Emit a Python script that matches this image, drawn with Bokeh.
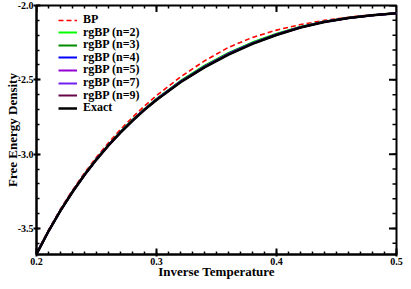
import math
from bokeh.plotting import figure
from bokeh.models import FixedTicker, NumeralTickFormatter, Legend, LegendItem
from bokeh.embed import file_html
from bokeh.resources import INLINE

# ---- data ----
beta = [0.20, 0.21, 0.22, 0.23, 0.24, 0.25, 0.26, 0.27, 0.28, 0.29, 0.30,
        0.32, 0.34, 0.36, 0.38, 0.40, 0.42, 0.44, 0.46, 0.48, 0.50]

bp = [-3.6644, -3.5092, -3.3689, -3.2417, -3.1258, -3.0200, -2.9231, -2.8340, -2.7519, -2.6762, -2.6061,
      -2.4808, -2.3723, -2.2816, -2.2148, -2.1656, -2.1283, -2.1003, -2.0789, -2.0625, -2.0496]
rgbp_n2 = [-3.6705, -3.5163, -3.3772, -3.2511, -3.1367, -3.0323, -2.9370, -2.8497, -2.7694, -2.6958, -2.6279,
           -2.5076, -2.4050, -2.3183, -2.2476, -2.1902, -2.1434, -2.1081, -2.0830, -2.0649, -2.0511]
rgbp_n3 = [-3.6712, -3.5171, -3.3781, -3.2522, -3.1378, -3.0336, -2.9385, -2.8513, -2.7713, -2.6979, -2.6303,
           -2.5105, -2.4085, -2.3223, -2.2512, -2.1928, -2.1451, -2.1089, -2.0835, -2.0652, -2.0513]
rgbp_n4 = [-3.6716, -3.5176, -3.3787, -3.2528, -3.1386, -3.0344, -2.9394, -2.8524, -2.7725, -2.6992, -2.6317,
           -2.5123, -2.4107, -2.3247, -2.2533, -2.1945, -2.1461, -2.1095, -2.0837, -2.0653, -2.0514]
rgbp_n5 = [-3.6719, -3.5178, -3.3790, -3.2532, -3.1390, -3.0349, -2.9399, -2.8530, -2.7732, -2.7000, -2.6326,
           -2.5134, -2.4120, -2.3262, -2.2547, -2.1954, -2.1467, -2.1098, -2.0839, -2.0654, -2.0514]
rgbp_n7 = [-3.6721, -3.5181, -3.3793, -3.2535, -3.1394, -3.0354, -2.9405, -2.8536, -2.7739, -2.7007, -2.6335,
           -2.5145, -2.4133, -2.3277, -2.2560, -2.1964, -2.1473, -2.1101, -2.0841, -2.0655, -2.0515]
rgbp_n9 = [-3.6723, -3.5183, -3.3796, -3.2538, -3.1397, -3.0357, -2.9409, -2.8541, -2.7744, -2.7013, -2.6340,
           -2.5152, -2.4142, -2.3286, -2.2568, -2.1971, -2.1477, -2.1103, -2.0842, -2.0656, -2.0515]
exact = [-3.6726, -3.5187, -3.3800, -3.2543, -3.1403, -3.0364, -2.9416, -2.8549, -2.7753, -2.7023, -2.6352,
         -2.5166, -2.4159, -2.3306, -2.2586, -2.1984, -2.1485, -2.1107, -2.0844, -2.0657, -2.0516]

series_labels = ["BP", "rgBP (n=2)", "rgBP (n=3)", "rgBP (n=4)", "rgBP (n=5)",
                 "rgBP (n=7)", "rgBP (n=9)", "Exact"]

x_major = [0.2, 0.3, 0.4, 0.5]
x_minor = [round(0.2 + 0.01 * i, 2) for i in range(31)]
y_major = [-3.5, -3.0, -2.5, -2.0]
y_minor = [round(-3.6 + 0.1 * i, 1) for i in range(17)]

FONT = "Liberation Serif"
X0, X1 = 0.2, 0.5
Y0, Y1 = -3.675, -2.0

W, H = 403, 281

p = figure(width=W, height=H, x_range=(X0, X1), y_range=(Y0, Y1),
           output_backend="svg", toolbar_location=None,
           x_axis_label="Inverse Temperature", y_axis_label="Free Energy Density",
           min_border_left=36, min_border_right=7,
           min_border_top=5, min_border_bottom=26)
p.outline_line_color = "black"
p.outline_line_width = 2
p.xgrid.visible = False
p.ygrid.visible = False
p.background_fill_color = "white"
p.border_fill_color = "white"

def style_axis(ax, ticks, minor, tick_in, tick_out, lab_standoff, title_standoff):
    ax.ticker = FixedTicker(ticks=ticks, minor_ticks=minor)
    ax.formatter = NumeralTickFormatter(format="0.0")
    ax.axis_line_width = 2
    ax.axis_line_color = "black"
    ax.major_tick_line_width = 2
    ax.minor_tick_line_width = 1.5
    ax.major_tick_in = tick_in
    ax.major_tick_out = tick_out
    ax.minor_tick_in = 3
    ax.minor_tick_out = 0
    ax.major_label_text_font = FONT
    ax.major_label_text_font_style = "bold"
    ax.major_label_text_color = "black"
    ax.major_label_text_font_size = "10px"
    ax.major_label_standoff = lab_standoff
    ax.axis_label_text_font = FONT
    ax.axis_label_text_font_style = "bold"
    ax.axis_label_text_font_size = "13px"
    ax.axis_label_text_color = "black"
    ax.axis_label_standoff = title_standoff

style_axis(p.xaxis[0], x_major, x_minor, 6, 2, 1, -4)
style_axis(p.yaxis[0], y_major, y_minor, 4, 3, 0, -5)

# inward ticks on the top and right frame edges (clipped half-dashes)
p.scatter(x_major, [Y1] * len(x_major), marker="dash", angle=math.pi / 2, size=13,
          line_color="black", line_width=2)
p.scatter(x_minor, [Y1] * len(x_minor), marker="dash", angle=math.pi / 2, size=6,
          line_color="black", line_width=1.5)
p.scatter([X1] * len(y_major), y_major, marker="dash", size=15,
          line_color="black", line_width=2)
p.scatter([X1] * len(y_minor), y_minor, marker="dash", size=8,
          line_color="black", line_width=1.5)

r_bp = p.line(beta, bp, line_color="#ff0000", line_width=1.6, line_dash="5 3")
r2 = p.line(beta, rgbp_n2, line_color="#00ff00", line_width=2)
r3 = p.line(beta, rgbp_n3, line_color="#008b00", line_width=2)
r4 = p.line(beta, rgbp_n4, line_color="#0000ff", line_width=2)
r5 = p.line(beta, rgbp_n5, line_color="#9400d3", line_width=2)
r7 = p.line(beta, rgbp_n7, line_color="#7220f0", line_width=2)
r9 = p.line(beta, rgbp_n9, line_color="#670748", line_width=2)
rex = p.line(beta, exact, line_color="black", line_width=2.5)
renderers = [r_bp, r2, r3, r4, r5, r7, r9, rex]

# one legend per row so that the row pitch matches the reference
ROW0, PITCH, BOX_H = 15.0, 12.6, 14
for i, (lab, rend) in enumerate(zip(series_labels, renderers)):
    centre = ROW0 + PITCH * i
    lg = Legend(items=[LegendItem(label=lab, renderers=[rend])],
                location=(22, 0))
    lg.location = (22, 0)
    lg.label_text_font = FONT
    lg.label_text_font_style = "bold"
    lg.label_text_font_size = "12px"
    lg.label_text_color = "black"
    lg.glyph_width = 19
    lg.glyph_height = 12
    lg.label_height = 12
    lg.label_standoff = 6
    lg.spacing = 0
    lg.padding = 0
    lg.margin = 0
    lg.border_line_color = None
    lg.background_fill_alpha = 0
    lg.tags = [centre]
    p.add_layout(lg, "center")

# legend rows are placed from the top of the frame; the frame height is the
# plot height minus the borders (bottom border as laid out by bokeh)
FRAME_H_EST = H - 5 - 27
for lg in p.center:
    if isinstance(lg, Legend) and lg.tags:
        c = lg.tags[0]
        lg.location = (22, FRAME_H_EST - c - BOX_H / 2)

open("out.html", "w").write(file_html(p, INLINE))
